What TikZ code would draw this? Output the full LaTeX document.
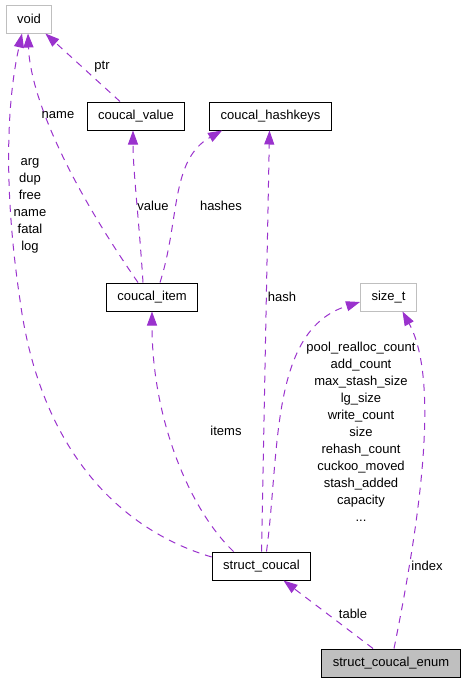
\documentclass[tikz,border=0pt]{standalone}
\usepackage{fontspec}
\setmainfont{Liberation Sans}
\usetikzlibrary{arrows.meta}
\definecolor{membercol}{HTML}{9A32CD}
\definecolor{extgrey}{HTML}{BFBFBF}
\tikzset{
  box/.style={draw=black, line width=1pt, minimum height=28pt, inner xsep=11pt, inner ysep=0pt, font=\fontsize{13}{17}\selectfont},
  extbox/.style={box, draw=extgrey},
  member/.style={draw=membercol, line width=1pt, dash pattern=on 7pt off 6pt, -{Triangle[length=14pt,width=10pt]}},
  lbl/.style={font=\fontsize{13}{17}\selectfont, align=center, inner sep=0pt}
}
\begin{document}
\begin{tikzpicture}[x=1pt,y=-1pt]
   \useasboundingbox (0,0) rectangle (466,683);
   \node[extbox] (void) at (29,19) {void};
   \node[box] (value) at (136,116) {coucal\_value};
   \node[box] (hashkeys) at (270.5,116) {coucal\_hashkeys};
   \node[box] (item) at (152,297) {coucal\_item};
   \node[extbox] (size) at (388.5,297) {size\_t};
   \node[box] (coucal) at (261.5,566) {struct\_coucal};
   \node[box, fill=extgrey] (enum) at (391,663) {struct\_coucal\_enum};
   % member edges
   \draw[member] ([xshift=-16pt]value.north) -- ([xshift=-7pt]void.south east);
   \draw[member] ([xshift=-14pt]item.north) .. controls (60,170) and (30,90) .. ([xshift=-1pt]void.south);
   \draw[member] ([yshift=9pt]coucal.west) .. controls (120,530) and (40,450) .. (20,300)
      .. controls (5,200) and (5,110) .. ([xshift=-7pt]void.south);
   \draw[member] ([xshift=-9pt]item.north) .. controls (139,220) and (133,170) .. ([xshift=-3pt]value.south);
   \draw[member] ([xshift=8pt]item.north) .. controls (180,220) and (170,160) .. ([xshift=13pt]hashkeys.south west);
   \draw[member] (coucal.north) -- ([xshift=-1pt]hashkeys.south);
   \draw[member] ([xshift=-28pt]coucal.north) .. controls (190,510) and (152,420) .. (item.south);
   \draw[member] ([xshift=5pt]coucal.north) .. controls (280,450) and (270,330) .. ([yshift=-5pt]size.west);
   \draw[member] ([xshift=-18pt]enum.north) -- ([xshift=22pt]coucal.south);
   \draw[member] ([xshift=3pt]enum.north) .. controls (420,520) and (440,380) .. ([xshift=14pt]size.south);
   % labels
   \node[lbl] (ptrlbl) at (102,67) {ptr};
   \node[lbl] (namelbl) at (58,115) {name};
   \node[lbl] (voidlbl) at (30,206) {arg\\dup\\free\\name\\fatal\\log};
   \node[lbl] (valuelbl) at (153,206) {value};
   \node[lbl] (hasheslbl) at (221,206) {hashes};
   \node[lbl] (hashlbl) at (282,297) {hash};
   \node[lbl] (itemslbl) at (226,431) {items};
   \node[lbl] (sizelbl) at (361,432) {pool\_realloc\_count\\add\_count\\max\_stash\_size\\lg\_size\\write\_count\\size\\rehash\_count\\cuckoo\_moved\\stash\_added\\capacity\\...};
   \node[lbl] (tablelbl) at (353,614) {table};
   \node[lbl] (indexlbl) at (427,566) {index};
\end{tikzpicture}
\end{document}
